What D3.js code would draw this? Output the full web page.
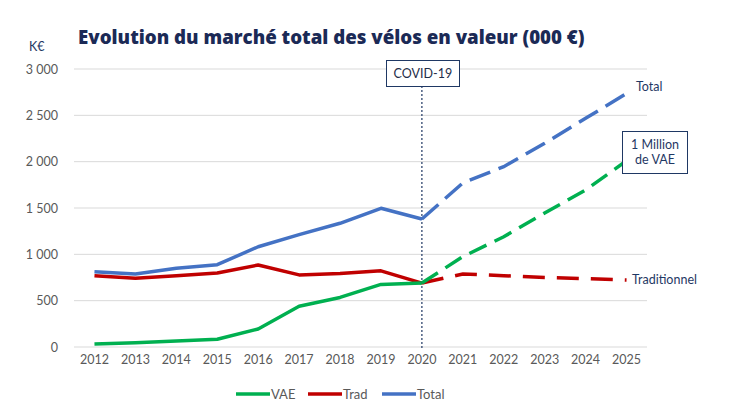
<!DOCTYPE html>
<html><head><meta charset="utf-8">
<script src="https://cdn.jsdelivr.net/npm/d3@7/dist/d3.min.js"></script>
<style>body{margin:0;background:#fff;} svg{display:block;font-family:Lato,"Open Sans",sans-serif;}</style>
</head><body><svg id="c" width="733" height="413"></svg>
<script>
const years = ["2012","2013","2014","2015","2016","2017","2018","2019","2020","2021","2022","2023","2024","2025"];
const vae   = [32, 45, 65, 83, 195, 440, 535, 675, 690, 975, 1190, 1445, 1695, 2010];
const trad  = [770, 742, 768, 798, 885, 778, 792, 822, 690, 788, 770, 750, 737, 723];
const total = [812, 788, 850, 888, 1082, 1212, 1335, 1497, 1381, 1770, 1946, 2198, 2468, 2735];
const yTicks = [0, 500, 1000, 1500, 2000, 2500, 3000];
const histEnd = "2020";
const seriesNames = ["VAE", "Trad", "Total"];
const colors = {VAE:"#00B050", Trad:"#C00000", Total:"#4472C4"};
const title = "Evolution du marché total des vélos en valeur (000 €)";

const svg = d3.select("#c");
const navy = "#1F3864";
const x = d3.scaleBand().domain(years).range([74, 647]).padding(0);
const cx = d => x(d) + x.bandwidth()/2;
const y = d3.scaleLinear().domain([0, 3000]).range([347, 69]);
const fmt = v => d3.format(",")(v).replace(/,/g, " ");

// grid
svg.append("g").selectAll("line").data(yTicks).join("line")
  .attr("x1", 74).attr("x2", 647).attr("y1", d=>y(d)).attr("y2", d=>y(d))
  .attr("stroke", "#D9D9D9").attr("stroke-width", 1);

// y axis labels
const ya = svg.append("g").attr("transform","translate(58,0)")
  .call(d3.axisLeft(y).tickValues(yTicks).tickFormat(fmt).tickSize(0).tickPadding(0));
ya.select(".domain").remove();
ya.selectAll("text").attr("fill","#595959").style("font-size","12.5px").style("font-family","Lato");

// x axis labels
const xa = svg.append("g").attr("transform","translate(0,347)")
  .call(d3.axisBottom(x).tickSize(0).tickPadding(8));
xa.select(".domain").remove();
xa.selectAll("text").attr("fill","#595959").style("font-size","12.5px").style("font-family","Lato");

// title and unit
const t = svg.append("text").attr("x", 78).attr("y", 44).text(title)
  .attr("fill", "#1B2A56").style("font-weight", 800).style("font-family","'Open Sans'").style("font-size","19px");
const tw = t.node().getComputedTextLength();
t.style("font-size", (19*507/tw).toFixed(2)+"px");
svg.append("text").attr("x", 29).attr("y", 51).text("K€").attr("fill", navy).style("font-size","12.5px");

// COVID line
svg.append("line").attr("x1", cx(histEnd)).attr("x2", cx(histEnd)).attr("y1", 86).attr("y2", 348)
  .attr("stroke", navy).attr("stroke-width", 1.2).attr("stroke-dasharray", "2,2");
svg.append("rect").attr("x", 386.5).attr("y", 60.5).attr("width", 73).attr("height", 26)
  .attr("fill","#fff").attr("stroke", navy).attr("stroke-width", 1);
svg.append("text").attr("x", cx(histEnd)+1).attr("y", 78).attr("text-anchor","middle").text("COVID-19")
  .attr("fill","#1F2D4A").style("font-size","12.5px");

// lines
const data = {VAE: vae, Trad: trad, Total: total};
const line = d3.line().x(d=>cx(d.year)).y(d=>y(d.v));
const hi = years.indexOf(histEnd);
const dashes = {VAE:"19,9", Trad:"22,12", Total:"22,9"};
const order = ["Total", "Trad", "VAE"];
order.forEach(name => {
  const pts = years.map((yr,i)=>({year:yr, v:data[name][i]}));
  svg.append("path").attr("d", line(pts.slice(0, hi+1))).attr("fill","none")
    .attr("stroke", colors[name]).attr("stroke-width", 3.5).attr("stroke-linejoin","round");
});
order.forEach(name => {
  const pts = years.map((yr,i)=>({year:yr, v:data[name][i]}));
  svg.append("path").attr("d", line(pts.slice(hi))).attr("fill","none")
    .attr("stroke", colors[name]).attr("stroke-width", 3.5).attr("stroke-dasharray", dashes[name]);
});

// annotations
svg.append("text").attr("x", 636).attr("y", 91).text("Total").attr("fill", navy).style("font-size","12.5px");
svg.append("rect").attr("x", 622.5).attr("y", 131.5).attr("width", 65).attr("height", 42)
  .attr("fill","#fff").attr("stroke", navy).attr("stroke-width", 1);
svg.append("text").attr("x", 655).attr("y", 149).attr("text-anchor","middle").text("1 Million").attr("fill", navy).style("font-size","12.5px");
svg.append("text").attr("x", 655).attr("y", 164).attr("text-anchor","middle").text("de VAE").attr("fill", navy).style("font-size","12.5px");
svg.append("text").attr("x", 632).attr("y", 284).text("Traditionnel").attr("fill", navy).style("font-size","12.5px");

// legend
const legX = [236, 308, 382];
const lg = svg.append("g").selectAll("g").data(seriesNames).join("g")
  .attr("transform", (d,i)=>`translate(${legX[i]},394)`);
lg.append("line").attr("x1",0).attr("x2",34).attr("stroke", d=>colors[d]).attr("stroke-width",3.5);
lg.append("text").attr("x", 35).attr("y", 4.5).text(d=>d).attr("fill","#595959").style("font-size","13px");
</script></body></html>
